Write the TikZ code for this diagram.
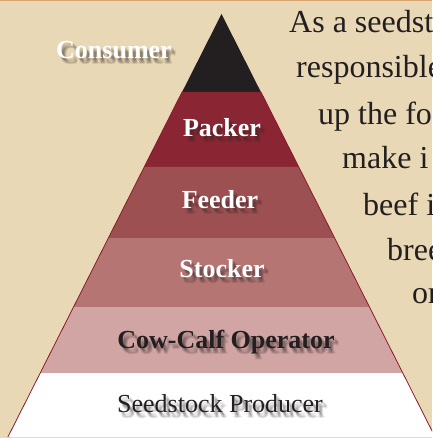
\documentclass[tikz,border=0pt]{standalone}
\usepackage{fontspec}
\setmainfont{Liberation Serif}

\definecolor{paper}{HTML}{E8D8B6}
\definecolor{rim}{HTML}{D9A671}
\definecolor{tip}{HTML}{231F20}
\definecolor{packer}{HTML}{8A2533}
\definecolor{feeder}{HTML}{9D5052}
\definecolor{stocker}{HTML}{B47573}
\definecolor{cowcalf}{HTML}{D1A5A3}
\definecolor{edge}{HTML}{8B1A2B}
\definecolor{ink}{HTML}{231F20}
\definecolor{shade}{HTML}{2E2424}

\tikzset{
  lbl/.style={font=\bfseries\fontsize{26}{26}\selectfont, anchor=base, text=white, inner sep=0pt},
  darklbl/.style={lbl, text=ink},
  plainlbl/.style={font=\fontsize{26}{26}\selectfont, anchor=base, text=ink, inner sep=0pt},
  blur/.style={text=shade, text opacity=0.11},
  story/.style={font=\fontsize{32}{32}\selectfont, anchor=base west, text=ink, inner sep=0pt}
}

\begin{document}
\begin{tikzpicture}[x=1pt,y=-1pt]

\useasboundingbox (0,0) rectangle (432,438);
\clip (0,0) rectangle (432,438);
\fill [paper] (0,0) rectangle (432,438);
\fill [rim] (0,0) rectangle (432,1.5);

% pyramid corners
\coordinate (A) at (221.5,14);
\coordinate (B1) at (182.1,92);
\coordinate (B2) at (260.9,92);
\coordinate (C1) at (144.2,167);
\coordinate (C2) at (298.8,167);
\coordinate (D1) at (108.4,238);
\coordinate (D2) at (334.6,238);
\coordinate (E1) at (73.5,307);
\coordinate (E2) at (369.5,307);
\coordinate (F1) at (40.2,373);
\coordinate (F2) at (402.8,373);
\coordinate (G1) at (7.9,437);
\coordinate (G2) at (435.1,437);

\fill [tip] (A)--(B2)--(B1)--cycle;
\fill [packer] (B1)--(B2)--(C2)--(C1)--cycle;
\fill [feeder] (C1)--(C2)--(D2)--(D1)--cycle;
\fill [stocker] (D1)--(D2)--(E2)--(E1)--cycle;
\fill [cowcalf] (E1)--(E2)--(F2)--(F1)--cycle;
\fill [white] (F1)--(F2)--(G2)--(G1)--cycle;

\draw [edge, line width=0.8pt] (B1)--(G1);
\draw [edge, line width=0.8pt] (B2)--(G2);

% label spots
\coordinate (con) at (114,59);
\coordinate (pac) at (222,137);
\coordinate (fee) at (220,208);
\coordinate (sto) at (222,277);
\coordinate (cow) at (226,348);
\coordinate (see) at (220,412);

% soft shadows first, then the words
\foreach \n/\t in {con/Consumer, pac/Packer, fee/Feeder, sto/Stocker} {
  \foreach \dx/\dy [count=\i] in {2/2, 3/3, 4/4, 3/5, 5/5, 4/6}
    \node [lbl, blur, xshift=\dx pt, yshift=-\dy pt] (\n-s\i) at (\n) {\t};
  \node [lbl] (\n-t) at (\n) {\t};
}

\foreach \dx/\dy [count=\i] in {2/2, 3/3, 4/4, 3/5, 5/5, 4/6}
  \node [darklbl, blur, xshift=\dx pt, yshift=-\dy pt] (cow-s\i) at (cow) {Cow-Calf Operator};
\node [darklbl] (cow-t) at (cow) {Cow-Calf Operator};

\foreach \dx/\dy [count=\i] in {2/2, 3/3, 4/4, 3/5, 5/5, 4/6}
  \node [plainlbl, blur, xshift=\dx pt, yshift=-\dy pt] (see-s\i) at (see) {Seedstock Producer};
\node [plainlbl] (see-t) at (see) {Seedstock Producer};

% text running beside the pyramid
\node [story] (l1) at (289,33) {As a seedst};
\node [story] (l2) at (296,78) {responsible};
\node [story] (l3) at (318,125) {up the fo};
\node [story] (l4) at (342,168) {make i};
\node [story] (l5) at (363,215) {beef i};
\node [story] (l6) at (387,260) {breed};
\node [story] (l7) at (412,303) {or};

\end{tikzpicture}
\end{document}
